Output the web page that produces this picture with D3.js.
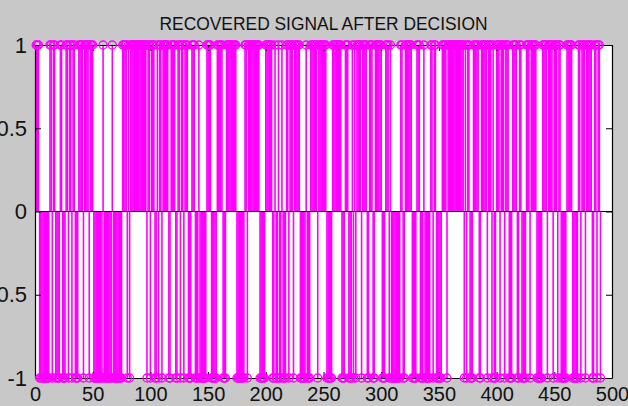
<!DOCTYPE html>
<html>
<head>
<meta charset="utf-8">
<script src="https://cdn.jsdelivr.net/npm/d3@7"></script>
<style>
  body { margin: 0; background: #c8c8c8; }
  svg { display: block; }
</style>
</head>
<body>
<div id="chart"></div>
<script>
// recovered bits after decision (+1 / -1), samples 1..490
var bits = [
   1, 1, 1,-1,-1,-1,-1,-1,-1,-1,  -1,-1, 1, 1,-1, 1, 1,-1,-1,-1,
  -1, 1, 1,-1,-1,-1, 1, 1,-1, 1,   1,-1, 1, 1,-1,-1,-1, 1, 1, 1,
   1,-1, 1, 1, 1, 1,-1, 1, 1, 1,  -1,-1,-1,-1,-1,-1,-1,-1, 1,-1,
  -1,-1,-1,-1,-1,-1, 1,-1,-1,-1,  -1,-1,-1,-1,-1, 1, 1, 1, 1,-1,
   1,-1, 1, 1, 1, 1, 1, 1, 1, 1,   1, 1, 1, 1, 1, 1,-1, 1, 1,-1,
   1, 1, 1,-1,-1, 1,-1, 1, 1,-1,   1, 1, 1, 1, 1,-1,-1, 1, 1, 1,
   1,-1,-1, 1, 1,-1, 1, 1,-1, 1,   1, 1,-1,-1,-1, 1, 1, 1,-1,-1,
  -1, 1,-1,-1,-1,-1,-1,-1, 1, 1,   1, 1,-1,-1,-1,-1,-1, 1, 1, 1,
   1, 1,-1,-1,-1, 1, 1, 1, 1, 1,   1, 1, 1, 1,-1,-1,-1,-1,-1,-1,
  -1, 1, 1,-1, 1, 1, 1, 1, 1, 1,   1, 1, 1, 1,-1,-1,-1,-1,-1, 1,
   1, 1, 1, 1, 1,-1,-1, 1,-1,-1,   1,-1,-1, 1,-1,-1,-1, 1, 1,-1,
   1, 1, 1,-1, 1, 1, 1, 1, 1,-1,  -1,-1,-1,-1, 1,-1,-1,-1, 1, 1,
   1, 1, 1, 1,-1, 1, 1, 1, 1, 1,   1, 1,-1,-1,-1,-1,-1, 1, 1, 1,
   1, 1, 1, 1, 1,-1,-1,-1, 1, 1,   1,-1,-1,-1, 1,-1, 1,-1, 1, 1,
   1, 1,-1, 1, 1, 1, 1,-1,-1, 1,   1, 1,-1,-1, 1, 1, 1, 1, 1, 1,
  -1,-1,-1, 1, 1, 1,-1, 1,-1,-1,  -1,-1,-1,-1,-1,-1, 1, 1,-1,-1,
   1, 1, 1, 1, 1, 1,-1,-1,-1,-1,   1, 1, 1,-1,-1,-1, 1,-1,-1,-1,
  -1,-1, 1, 1,-1, 1, 1,-1,-1,-1,  -1,-1, 1, 1, 1, 1,-1, 1, 1, 1,
   1, 1, 1, 1, 1, 1, 1, 1, 1, 1,   1,-1, 1,-1, 1, 1,-1,-1,-1, 1,
   1, 1, 1, 1,-1,-1, 1, 1, 1, 1,   1,-1, 1, 1, 1,-1, 1,-1,-1, 1,
   1, 1,-1, 1, 1, 1,-1, 1, 1, 1,  -1,-1,-1, 1, 1, 1, 1,-1,-1, 1,
   1,-1,-1,-1,-1, 1, 1, 1,-1, 1,   1, 1, 1, 1,-1,-1,-1,-1,-1, 1,
   1, 1, 1,-1, 1, 1, 1, 1,-1, 1,   1, 1,-1, 1, 1,-1,-1,-1,-1,-1,
   1, 1, 1, 1, 1,-1,-1,-1,-1,-1,   1, 1,-1, 1, 1, 1,-1, 1, 1, 1,
   1, 1,-1,-1, 1, 1,-1, 1, 1,-1
];
var xTicks = [0, 50, 100, 150, 200, 250, 300, 350, 400, 450, 500];
var yTicks = [-1, -0.5, 0, 0.5, 1];
var title = "RECOVERED SIGNAL AFTER DECISION";

var width = 628;
var height = 406;
var axLeft = 35, axRight = 612, axTop = 45, axBottom = 378;

var svg = d3.select("#chart")
    .append("svg")
      .attr("width", width)
      .attr("height", height);

svg.append("rect")
    .attr("width", width)
    .attr("height", height)
    .style("fill", "#c8c8c8");

var x = d3.scaleLinear()
          .domain([0, 500])
          .range([axLeft, axRight]);
var y = d3.scaleLinear()
          .domain([-1, 1])
          .range([axBottom, axTop]);

svg.append("rect")
    .attr("x", axLeft)
    .attr("y", axTop)
    .attr("width", axRight - axLeft)
    .attr("height", axBottom - axTop)
    .style("fill", "#ffffff");

// stems
var data = bits.map(function(d, i) { return { n: i + 1, v: d }; });

svg.append("g")
   .selectAll("line")
   .data(data)
   .enter()
   .append("line")
     .attr("x1", function(d) { return x(d.n); })
     .attr("x2", function(d) { return x(d.n); })
     .attr("y1", y(0))
     .attr("y2", function(d) { return y(d.v); })
     .style("stroke", "#ff00ff")
     .style("stroke-width", 1.6);

// baseline
svg.append("line")
    .attr("x1", axLeft)
    .attr("x2", axRight)
    .attr("y1", y(0))
    .attr("y2", y(0))
    .style("stroke", "#000")
    .style("stroke-width", 1.2);

// box + ticks
svg.append("g")
    .attr("transform", "translate(0," + axBottom + ")")
    .call(d3.axisBottom(x).tickValues(xTicks).tickSizeInner(-6).tickSizeOuter(0).tickPadding(9));
svg.append("g")
    .attr("transform", "translate(0," + axTop + ")")
    .call(d3.axisTop(x).tickValues(xTicks).tickSizeInner(-6).tickSizeOuter(0).tickFormat(""));
var gy = svg.append("g")
    .attr("transform", "translate(" + axLeft + ",0)")
    .call(d3.axisLeft(y).tickValues(yTicks).tickSizeInner(-6).tickSizeOuter(0).tickPadding(8)
      .tickFormat(function(d) { return String(d); }));
svg.append("g")
    .attr("transform", "translate(" + axRight + ",0)")
    .call(d3.axisRight(y).tickValues(yTicks).tickSizeInner(-6).tickSizeOuter(0).tickFormat(""));

svg.selectAll(".domain").style("stroke", "#000").style("stroke-width", 1.2);
svg.selectAll(".tick line").style("stroke", "#000");
svg.selectAll(".tick text")
    .style("font-family", "Arial, 'Liberation Sans', sans-serif")
    .style("font-size", "20px")
    .style("fill", "#111");
gy.selectAll(".tick text").style("font-size", "22px");

// markers
svg.append("g")
   .selectAll("circle")
   .data(data)
   .enter()
   .append("circle")
     .attr("cx", function(d) { return x(d.n); })
     .attr("cy", function(d) { return y(d.v); })
     .attr("r", 4)
     .style("fill", "none")
     .style("stroke", "#ff00ff")
     .style("stroke-width", 1.3);

svg.append("text")
    .attr("x", (axLeft + axRight) / 2)
    .attr("y", 30)
    .attr("text-anchor", "middle")
    .attr("textLength", 328)
    .attr("lengthAdjust", "spacingAndGlyphs")
    .style("font-family", "Arial, 'Liberation Sans', sans-serif")
    .style("font-size", "18px")
    .style("fill", "#111")
    .text(title);
</script>
</body>
</html>
